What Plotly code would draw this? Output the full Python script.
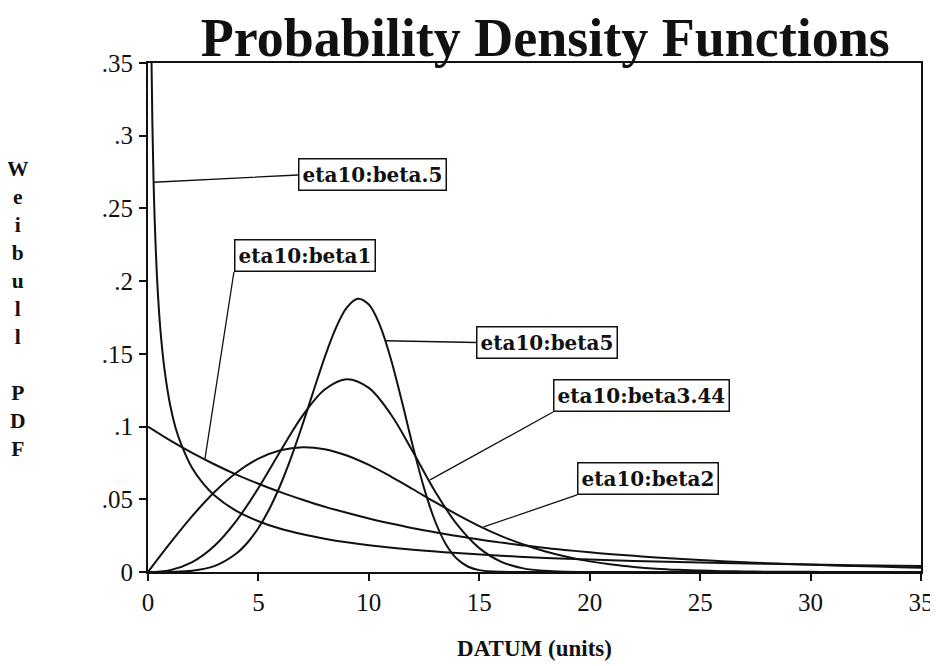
import plotly.graph_objects as go

# ---- data ----
x_beta05 = [0.05, 0.1, 0.15, 0.2, 0.25, 0.3, 0.4, 0.5, 0.6, 0.75, 1, 1.25, 1.5, 2, 2.5, 3, 4, 5, 6, 7, 8, 9, 10,
            12, 14, 16, 18, 20, 22, 25, 28, 30, 32, 35]
y_beta05 = [0.659, 0.452, 0.361, 0.307, 0.270, 0.243, 0.205, 0.179, 0.160, 0.139, 0.115, 0.099, 0.088, 0.0715,
            0.0607, 0.0528, 0.0420, 0.0349, 0.0297, 0.0259, 0.0229, 0.0204, 0.0184, 0.0153, 0.0130, 0.0112,
            0.0097, 0.0086, 0.0076, 0.0065, 0.0056, 0.0051, 0.0047, 0.0041]

x_int = list(range(0, 36))
y_beta1 = [0.1, 0.0905, 0.0819, 0.0741, 0.0670, 0.0607, 0.0549, 0.0497, 0.0449, 0.0407, 0.0368, 0.0333,
           0.0301, 0.0273, 0.0247, 0.0223, 0.0202, 0.0183, 0.0165, 0.0150, 0.0135, 0.0122, 0.0111, 0.0100,
           0.0091, 0.0082, 0.0074, 0.0067, 0.0061, 0.0055, 0.0050, 0.0045, 0.0041, 0.0037, 0.0033, 0.0030]
y_beta2 = [0, 0.0198, 0.0384, 0.0548, 0.0682, 0.0779, 0.0837, 0.0858, 0.0844, 0.0801, 0.0736, 0.0656,
           0.0569, 0.0480, 0.0395, 0.0316, 0.0247, 0.0189, 0.0141, 0.0103, 0.0073, 0.0051, 0.0035, 0.0023,
           0.0015, 0.0010, 0.0006, 0.0004, 0.0002, 0.0001, 0.0001, 0, 0, 0, 0, 0]
y_beta344 = [0, 0.0013, 0.0068, 0.0179, 0.0352, 0.0578, 0.0832, 0.1075, 0.1255, 0.1326, 0.1266, 0.1083,
             0.0825, 0.0554, 0.0325, 0.0164, 0.0070, 0.0025, 0.0008, 0.0002, 0, 0, 0, 0, 0, 0, 0, 0, 0, 0,
             0, 0, 0, 0, 0, 0]

x_beta5 = [0, 1, 2, 3, 4, 4.5, 5, 5.5, 6, 6.5, 7, 7.5, 8, 8.5, 9, 9.5, 10, 10.5, 11, 11.5, 12, 12.5, 13,
           13.5, 14, 14.5, 15, 16, 17, 20, 25, 30, 35]
y_beta5 = [0, 0.0001, 0.0008, 0.0040, 0.0127, 0.0201, 0.0303, 0.0435, 0.0600, 0.0795, 0.1015, 0.1248,
           0.1476, 0.1675, 0.1818, 0.1879, 0.1839, 0.1696, 0.1463, 0.1170, 0.0861, 0.0577, 0.0349, 0.0188,
           0.0089, 0.0036, 0.0013, 0.0001, 0, 0, 0, 0, 0]

# callout labels: point on curve (head) and box corner (tail), in data units
labels = ["eta10:beta.5", "eta10:beta1", "eta10:beta5", "eta10:beta3.44", "eta10:beta2"]
head_x = [0.25, 2.58, 10.78, 12.77, 15.2]
head_y = [0.268, 0.078, 0.159, 0.0633, 0.031]
tail_x = [6.79, 3.89, 14.86, 18.34, 19.43]
tail_y = [0.273, 0.2063, 0.1578, 0.110, 0.053]
box_yanchor = ["middle", "bottom", "middle", "bottom", "bottom"]

x_ticks = [0, 5, 10, 15, 20, 25, 30, 35]
y_ticks = [0, 0.05, 0.1, 0.15, 0.2, 0.25, 0.3, 0.35]
y_ticktext = ["0", ".05", ".1", ".15", ".2", ".25", ".3", ".35"]

SERIF = "Liberation Serif, Times New Roman, serif"
INK = "#111111"
LINE = dict(color=INK, width=2, shape="spline", smoothing=1)

fig = go.Figure()
fig.add_trace(go.Scatter(x=x_beta05, y=y_beta05, mode="lines", line=LINE, name="eta10:beta.5"))
fig.add_trace(go.Scatter(x=x_int, y=y_beta1, mode="lines", line=LINE, name="eta10:beta1"))
fig.add_trace(go.Scatter(x=x_int, y=y_beta2, mode="lines", line=LINE, name="eta10:beta2"))
fig.add_trace(go.Scatter(x=x_int, y=y_beta344, mode="lines", line=LINE, name="eta10:beta3.44"))
fig.add_trace(go.Scatter(x=x_beta5, y=y_beta5, mode="lines", line=LINE, name="eta10:beta5"))

for lab, hx, hy, tx, ty, ya in zip(labels, head_x, head_y, tail_x, tail_y, box_yanchor):
    fig.add_annotation(
        x=hx, y=hy, ax=tx, ay=ty, xref="x", yref="y", axref="x", ayref="y",
        text="<b>" + lab + "</b>", showarrow=True, arrowhead=0, arrowwidth=1.3, arrowcolor=INK,
        xanchor="left", yanchor=ya,
        font=dict(family="DejaVu Serif, serif", size=20, color=INK),
        bgcolor="white", bordercolor=INK, borderwidth=1.5, borderpad=3,
    )

# vertical y-axis title
fig.add_annotation(
    xref="paper", yref="paper", x=-0.168, y=0.516, xanchor="center", yanchor="middle",
    text="<b>W<br>e<br>i<br>b<br>u<br>l<br>l<br>\u00a0<br>P<br>D<br>F</b>", showarrow=False,
    font=dict(family=SERIF, size=21.5, color=INK), align="center",
)

# the page adds an 8px body margin, so the figure is 8px smaller than the window
fig.update_layout(
    width=930, height=658,
    margin=dict(l=140, r=17, t=55, b=94, autoexpand=False),
    paper_bgcolor="white", plot_bgcolor="white",
    showlegend=False,
    title=dict(text="<b>Probability Density Functions</b>", xref="paper", x=0.514, xanchor="center",
               y=1 - 29 / 658, yanchor="middle",
               font=dict(family=SERIF, size=54, color=INK)),
)
fig.update_xaxes(
    range=[0, 35], tickvals=x_ticks, ticks="outside", ticklen=7, tickwidth=1.5, tickcolor=INK,
    showline=True, linewidth=2, linecolor=INK, mirror=True, showgrid=False, zeroline=False,
    automargin=False,
    tickfont=dict(family=SERIF, size=25, color=INK), ticklabelstandoff=0,
    title=dict(text="<b>DATUM (units)</b>", font=dict(family=SERIF, size=23, color=INK), standoff=25),
)
fig.update_yaxes(
    range=[0, 0.35], tickvals=y_ticks, ticktext=y_ticktext, ticks="outside", ticklen=7, tickwidth=1.5,
    tickcolor=INK, showline=True, linewidth=2, linecolor=INK, mirror=True, showgrid=False,
    zeroline=False, automargin=False,
    tickfont=dict(family=SERIF, size=25, color=INK), ticklabelstandoff=1,
)

fig.write_html("out.html")
